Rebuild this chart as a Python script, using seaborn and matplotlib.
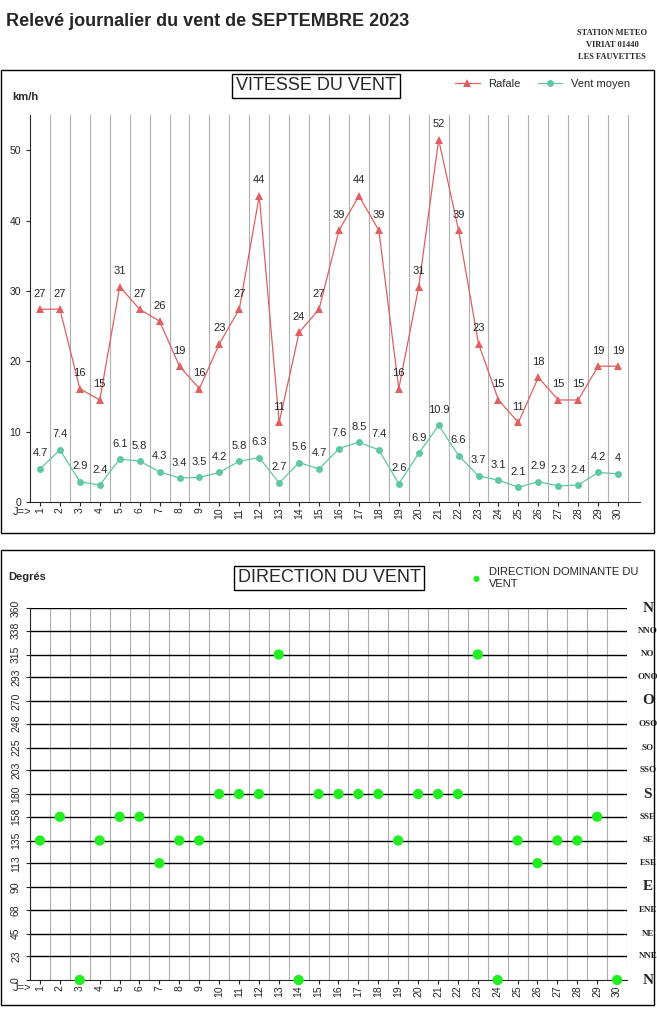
import numpy as np
import pandas as pd
import matplotlib
matplotlib.use("Agg")
import matplotlib.pyplot as plt
import seaborn as sns
from matplotlib.patches import Rectangle

sns.set_style("white")
plt.rcParams['font.family'] = ['Liberation Sans', 'DejaVu Sans']

days = list(range(1, 31))
rafale = [27.4, 27.4, 16.1, 14.5, 30.6, 27.4, 25.7, 19.3, 16.1, 22.5, 27.4, 43.5, 11.3, 24.1, 27.4,
          38.6, 43.5, 38.6, 16.1, 30.6, 51.5, 38.6, 22.5, 14.5, 11.3, 17.7, 14.5, 14.5, 19.3, 19.3]
moyen = [4.7, 7.4, 2.9, 2.4, 6.1, 5.8, 4.3, 3.4, 3.5, 4.2, 5.8, 6.3, 2.7, 5.6, 4.7,
         7.6, 8.5, 7.4, 2.6, 6.9, 10.9, 6.6, 3.7, 3.1, 2.1, 2.9, 2.3, 2.4, 4.2, 4.0]
direction = [135, 158, 0, 135, 158, 158, 113, 135, 135, 180, 180, 180, 315, 0, 180,
             180, 180, 180, 135, 180, 180, 180, 315, 0, 135, 113, 135, 135, 158, 0]
dir_ticks = [0, 23, 45, 68, 90, 113, 135, 158, 180, 203, 225, 248, 270, 293, 315, 338, 360]
dir_names = ['N', 'NNE', 'NE', 'ENE', 'E', 'ESE', 'SE', 'SSE', 'S', 'SSO', 'SO', 'OSO', 'O',
             'ONO', 'NO', 'NNO', 'N']

df = pd.DataFrame({'jour': days, 'Rafale': rafale, 'Vent moyen': moyen, 'dir': direction})

W, H = 657, 1018
fig = plt.figure(figsize=(W / 100, H / 100), dpi=100)

def box(x0, y0, x1, y1):
    return [x0 / W, 1 - y1 / H, (x1 - x0) / W, (y1 - y0) / H]

fig.text(6 / W, 1 - 22 / H, "Relevé journalier du vent de SEPTEMBRE 2023", fontsize=13,
         fontweight='bold', va='center')
fig.text(612 / W, 1 - 45 / H, "STATION METEO\nVIRIAT 01440\nLES FAUVETTES", fontsize=6,
         fontweight='bold', ha='center', va='center', family='Liberation Serif', linespacing=1.6)
fig.patches.append(Rectangle((1 / W, 1 - 533 / H), 653 / W, 463 / H, transform=fig.transFigure,
                             fill=False, lw=1, ec='black'))
fig.patches.append(Rectangle((1 / W, 1 - 1005 / H), 653 / W, 455 / H, transform=fig.transFigure,
                             fill=False, lw=1, ec='black'))

# --- vitesse ---
ax = fig.add_axes(box(30, 115, 640, 502))
for d in days:
    ax.axvline(d + 0.5, color='#b0b0b0', lw=0.8, zorder=0)
sns.lineplot(data=df, x='jour', y='Rafale', marker='^', color='#e06060', markersize=6,
             markeredgewidth=0, lw=0.9, ax=ax, label='Rafale')
sns.lineplot(data=df, x='jour', y='Vent moyen', marker='o', color='#60c8a0', markersize=5,
             markeredgewidth=0, lw=0.9, ax=ax, label='Vent moyen')
for d, r, m in zip(days, rafale, moyen):
    ax.text(d, r + 1.5, f"{int(r + 0.5)}", ha='center', va='bottom', fontsize=8)
    ax.text(d, m + 1.5, f"{m:g}", ha='center', va='bottom', fontsize=8)
ax.set_xlim(0.5, 31.1)
ax.set_ylim(0, 55)
ax.set_xticks(days)
ax.set_xticklabels(days, rotation=90, fontsize=7.5)
ax.set_yticks([0, 10, 20, 30, 40, 50])
ax.tick_params(axis='y', labelsize=7.5, length=3, left=True)
ax.tick_params(axis='x', length=3, bottom=True, pad=1)
ax.set_xlabel('')
ax.set_ylabel('')
for s in ['top', 'right']:
    ax.spines[s].set_visible(False)
ax.legend(loc='upper right', bbox_to_anchor=(1.0, 1.12), ncol=2, frameon=False, fontsize=8,
          handlelength=2.2, columnspacing=1.5)
fig.text(12 / W, 1 - 97 / H, "km/h", fontsize=8, fontweight='bold', va='center')
fig.text(316 / W, 1 - 86 / H, "VITESSE DU VENT", fontsize=13, ha='center', va='center',
         bbox=dict(boxstyle='square,pad=0.2', fc='white', ec='black', lw=1))
fig.text(22 / W, 1 - 512 / H, "J=>", fontsize=8, ha='center', va='center')

# --- direction ---
ax2 = fig.add_axes(box(30, 608, 627, 980))
for d in range(0, 31):
    ax2.axvline(d + 0.5, color='#b0b0b0', lw=0.8, zorder=0)
for t in dir_ticks[1:]:
    ax2.axhline(t, color='black', lw=1, zorder=1)
sns.scatterplot(data=df, x='jour', y='dir', color='#22ee22', s=55, edgecolor='none', ax=ax2,
                zorder=3, label='DIRECTION DOMINANTE DU\nVENT', clip_on=False)
ax2.set_xlim(0.5, 30.5)
ax2.set_ylim(0, 360)
ax2.set_xticks(days)
ax2.set_xticklabels(days, rotation=90, fontsize=7.5)
ax2.set_yticks(dir_ticks)
ax2.set_yticklabels(dir_ticks, rotation=90, fontsize=7.5, va='center')
ax2.tick_params(axis='y', length=3, left=True)
ax2.tick_params(axis='x', length=3, bottom=True, pad=1)
ax2.set_xlabel('')
ax2.set_ylabel('')
for s in ['top', 'right']:
    ax2.spines[s].set_visible(False)
for t, n in zip(dir_ticks, dir_names):
    big = n in ('N', 'E', 'S', 'O')
    ax2.text(1.035, t, n, transform=ax2.get_yaxis_transform(), ha='center', va='center',
             family='Liberation Serif', fontweight='bold', fontsize=11 if big else 6.5)
ax2.legend(loc='upper left', bbox_to_anchor=(0.72, 1.125), frameon=False, fontsize=8,
           handletextpad=0.1, markerscale=0.6, borderpad=0)
fig.text(8 / W, 1 - 577 / H, "Degrés", fontsize=8, fontweight='bold', va='center')
fig.text(329 / W, 1 - 578 / H, "DIRECTION DU VENT", fontsize=13, ha='center', va='center',
         bbox=dict(boxstyle='square,pad=0.2', fc='white', ec='black', lw=1))
fig.text(22 / W, 1 - 988 / H, "J=>", fontsize=8, ha='center', va='center')

fig.savefig("out.png", dpi=100)
